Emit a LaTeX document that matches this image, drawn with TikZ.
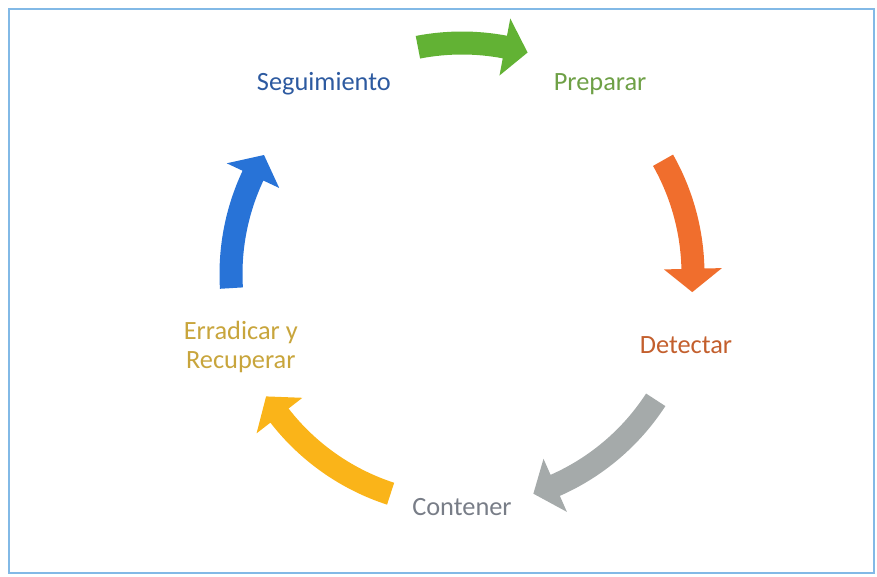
\documentclass[tikz,border=0pt]{standalone}
\usepackage{fontspec}
\setmainfont{Carlito}
\definecolor{framecol}{RGB}{130,185,230}
\definecolor{cgreen}{RGB}{98,178,52}
\definecolor{corange}{RGB}{240,110,45}
\definecolor{cgray}{RGB}{165,170,170}
\definecolor{cyellow}{RGB}{250,180,25}
\definecolor{cblue}{RGB}{40,115,215}

\begin{document}
\begin{tikzpicture}[stage/.style={font=\fontsize{15}{16.5}\selectfont, align=center}]
			\useasboundingbox (-9.24,5.48) rectangle (8.30,-6.06);
			\draw[line width=1.2pt, color=framecol] (-9.06,5.30) rectangle (8.24,-5.98);
			\foreach \from/\to/\col in {101/73.5/cgreen, 29.5/-4.5/corange, -33/-72/cgray, 252/212/cyellow, 183.5/149/cblue}{
				\pgfmathsetmacro{\base}{\to+5.8}
				\fill[\col] (\from:4.85) arc[start angle=\from, end angle=\base, radius=4.85] -- (\base:5.2) -- (\to:4.62) -- (\base:4.04) -- (\base:4.39) arc[start angle=\base, end angle=\from, radius=4.39] -- cycle;
			}
			\node[stage, text={rgb,255:red,45;green,90;blue,160}] (seguimiento) at (126:4.7) {Seguimiento};
			\node[stage, text={rgb,255:red,110;green,160;blue,70}] (preparar) at (54:4.7) {Preparar};
			\node[stage, text={rgb,255:red,195;green,95;blue,45}] (detectar) at (-17.6:4.7) {Detectar};
			\node[stage, text={rgb,255:red,120;green,125;blue,135}] (contener) at (270:4.66) {Contener};
			\node[stage, text={rgb,255:red,200;green,165;blue,60}] (erradicar) at (198.3:4.66) {Erradicar y\\Recuperar};
		\end{tikzpicture}
\end{document}
